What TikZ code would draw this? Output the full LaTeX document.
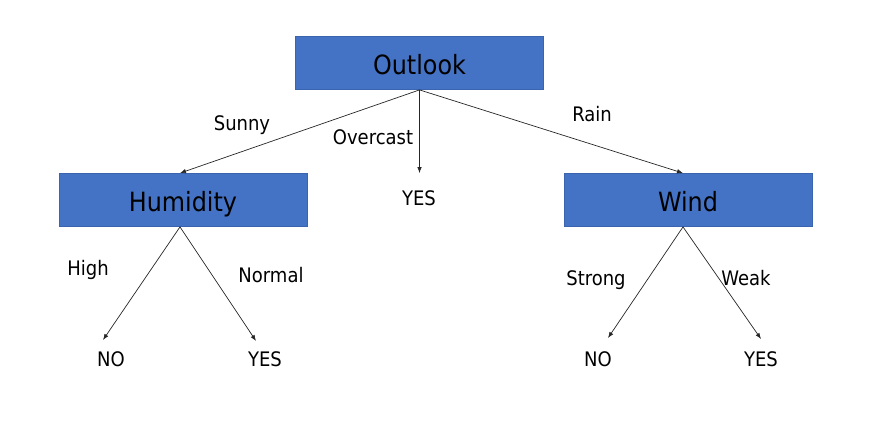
\documentclass[tikz,border=0pt]{standalone}
\usepackage{fontspec}
\IfFontExistsTF{DejaVu Sans Condensed}{\setmainfont{DejaVu Sans Condensed}}{\setmainfont{DejaVu Sans}}
\usepackage{xcolor}
\usepackage{tikz}
\usetikzlibrary{arrows.meta, positioning}

\definecolor{boxblue}{HTML}{4472C4}
\definecolor{boxedge}{HTML}{3A64AE}

\tikzset{
  attr/.style={draw=boxedge, line width=0.8pt, fill=boxblue, minimum width=248pt, minimum height=53pt,
    inner sep=0pt, text height=23pt, text depth=0pt, font=\fontsize{26.5}{30}\selectfont},
  lbl/.style={anchor=base, inner sep=0pt, font=\fontsize{20}{24}\selectfont},
  branch/.style={draw=black!85, line width=0.7pt, -{Latex[length=6pt,width=4.5pt]}}
}

\begin{document}
\begin{tikzpicture}[x=1pt, y=-1pt]
  \useasboundingbox (0,0) rectangle (873,429);

  % attribute boxes
  \node[attr] (outlook) at (419.5,63) {Outlook};
  \node[attr] (humid) at (183,200) {Humidity};
  \node[attr] (wind) at (688,200) {Wind};

  % leaves
  \node[lbl] (yes0) at (419,205) {YES};
  \node[lbl] (no1) at (111,366) {NO};
  \node[lbl] (yes1) at (265,366) {YES};
  \node[lbl] (no2) at (598,366) {NO};
  \node[lbl] (yes2) at (761,366) {YES};

  % arrow ends
  \coordinate (over) at (outlook.south |- humid.north);
  \coordinate (hno) at (103,340);
  \coordinate (hyes) at (256,341);
  \coordinate (wno) at (608,338);
  \coordinate (wyes) at (761,339);

  % branches
  \draw[branch] (outlook.south) -- ([xshift=-3pt]humid.north);
  \draw[branch] (outlook.south) -- (over);
  \draw[branch] (outlook.south) -- ([xshift=-5pt]wind.north);
  \draw[branch] ([xshift=-3pt]humid.south) -- (hno);
  \draw[branch] ([xshift=-3pt]humid.south) -- (hyes);
  \draw[branch] ([xshift=-5pt]wind.south) -- (wno);
  \draw[branch] ([xshift=-5pt]wind.south) -- (wyes);

  % branch labels
  \node[lbl] (sunny) at (242,130) {Sunny};
  \node[lbl] (overcast) at (373,144) {Overcast};
  \node[lbl] (rain) at (592,121) {Rain};
  \node[lbl] (high) at (88,275) {High};
  \node[lbl] (normal) at (271,282) {Normal};
  \node[lbl] (strong) at (596,285) {Strong};
  \node[lbl] (weak) at (746,285) {Weak};
\end{tikzpicture}
\end{document}
